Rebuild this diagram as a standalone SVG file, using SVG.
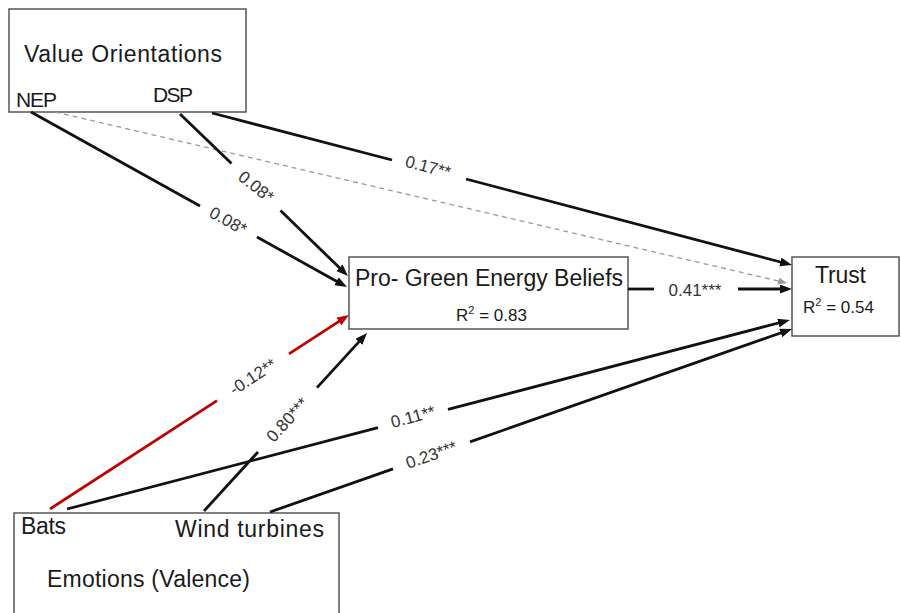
<svg xmlns="http://www.w3.org/2000/svg" width="901" height="613" viewBox="0 0 901 613">
<style>
.box{fill:#fff;stroke:#555;stroke-width:1.5}
.t{font-family:"Liberation Sans",Arial,sans-serif;fill:#1a1a1a}
.big{font-size:23px}
.sup{font-size:11px}
.lbl{font-family:"Liberation Sans",Arial,sans-serif;font-size:17px;fill:#333}
.e{stroke:#111;stroke-width:2.8;fill:none}
.red{stroke:#c00000;stroke-width:2.8;fill:none}
.dash{stroke:#999;stroke-width:1.3;stroke-dasharray:5 4;fill:none}
</style>
<defs>
<marker id="ah" markerUnits="userSpaceOnUse" markerWidth="13" markerHeight="10" refX="2" refY="4.5" orient="auto"><path d="M0,0 L12,4.5 L0,9 z" fill="#111"/></marker>
<marker id="ahr" markerUnits="userSpaceOnUse" markerWidth="13" markerHeight="10" refX="2" refY="4.5" orient="auto"><path d="M0,0 L12,4.5 L0,9 z" fill="#c00000"/></marker>
<marker id="ahg" markerUnits="userSpaceOnUse" markerWidth="10" markerHeight="8" refX="1" refY="3.5" orient="auto"><path d="M0,0 L9,3.5 L0,7 z" fill="#999"/></marker>
</defs>
<rect width="901" height="613" fill="#fff"/>

<g id="value-orientations">
<rect class="box" x="9" y="9" width="237" height="103"/>
<text class="t big" x="24" y="62" textLength="198">Value Orientations</text>
<text class="t" x="16" y="107" font-size="21" textLength="41">NEP</text>
<text class="t" x="153" y="102" font-size="21" textLength="40">DSP</text>
</g>

<g id="pro-green">
<rect class="box" x="349" y="257" width="279" height="72"/>
<text class="t big" x="355" y="286" textLength="268">Pro- Green Energy Beliefs</text>
<text class="t" x="456" y="321" font-size="17">R<tspan class="sup" dy="-7">2</tspan><tspan dy="7"> = 0.83</tspan></text>
</g>

<g id="trust">
<rect class="box" x="792" y="257" width="107" height="79"/>
<text class="t big" x="815" y="283" textLength="51">Trust</text>
<text class="t" x="803" y="313" font-size="17">R<tspan class="sup" dy="-7">2</tspan><tspan dy="7"> = 0.54</tspan></text>
</g>

<g id="emotions">
<rect class="box" x="14" y="513" width="325" height="110"/>
<text class="t big" x="21" y="534" textLength="45">Bats</text>
<text class="t big" x="175" y="537" textLength="149">Wind turbines</text>
<text class="t big" x="47" y="587" textLength="203">Emotions (Valence)</text>
</g>

<g id="connectors">
<line class="dash" x1="55" y1="112" x2="779.2" y2="281.2" marker-end="url(#ahg)"/>

<line class="e" x1="31" y1="112" x2="200" y2="206"/>
<line class="e" x1="257" y1="237" x2="338.25" y2="282.2" marker-end="url(#ah)"/>
<text class="lbl" x="228" y="221" text-anchor="middle" dominant-baseline="central" transform="rotate(29 228 221)">0.08*</text>

<line class="e" x1="180" y1="114" x2="231.5" y2="163.4"/>
<line class="e" x1="280.5" y1="210.6" x2="340.8" y2="269.1" marker-end="url(#ah)"/>
<text class="lbl" x="256" y="187" text-anchor="middle" dominant-baseline="central" transform="rotate(38 256 187)">0.08*</text>

<line class="e" x1="212" y1="113" x2="392" y2="160"/>
<line class="e" x1="466" y1="179" x2="782.3" y2="262.5" marker-end="url(#ah)"/>
<text class="lbl" x="428" y="167" text-anchor="middle" dominant-baseline="central" transform="rotate(14.7 428 167)">0.17**</text>

<line class="e" x1="628" y1="289" x2="654" y2="289"/>
<line class="e" x1="738" y1="289" x2="782" y2="289" marker-end="url(#ah)"/>
<text class="lbl" x="695" y="290" text-anchor="middle" dominant-baseline="central">0.41***</text>

<line class="red" x1="50" y1="509" x2="217" y2="400.6"/>
<line class="red" x1="289" y1="353.9" x2="340.6" y2="320.4" marker-end="url(#ahr)"/>
<text class="lbl" x="253" y="377" text-anchor="middle" dominant-baseline="central" transform="rotate(-33 253 377)">-0.12**</text>

<line class="e" x1="204" y1="511" x2="258" y2="452"/>
<line class="e" x1="317" y1="387.6" x2="360.25" y2="340.4" marker-end="url(#ah)"/>
<text class="lbl" x="287.5" y="420" text-anchor="middle" dominant-baseline="central" transform="rotate(-47.5 287.5 420)">0.80***</text>

<line class="e" x1="67" y1="509" x2="378" y2="427.7"/>
<line class="e" x1="448" y1="409.4" x2="780.3" y2="322.5" marker-end="url(#ah)"/>
<text class="lbl" x="413" y="417" text-anchor="middle" dominant-baseline="central" transform="rotate(-14.6 413 417)">0.11**</text>

<line class="e" x1="270" y1="512" x2="393" y2="468.9"/>
<line class="e" x1="470" y1="441.9" x2="782.6" y2="332.3" marker-end="url(#ah)"/>
<text class="lbl" x="431.5" y="455" text-anchor="middle" dominant-baseline="central" transform="rotate(-19.3 431.5 455)">0.23***</text>
</g>
</svg>
